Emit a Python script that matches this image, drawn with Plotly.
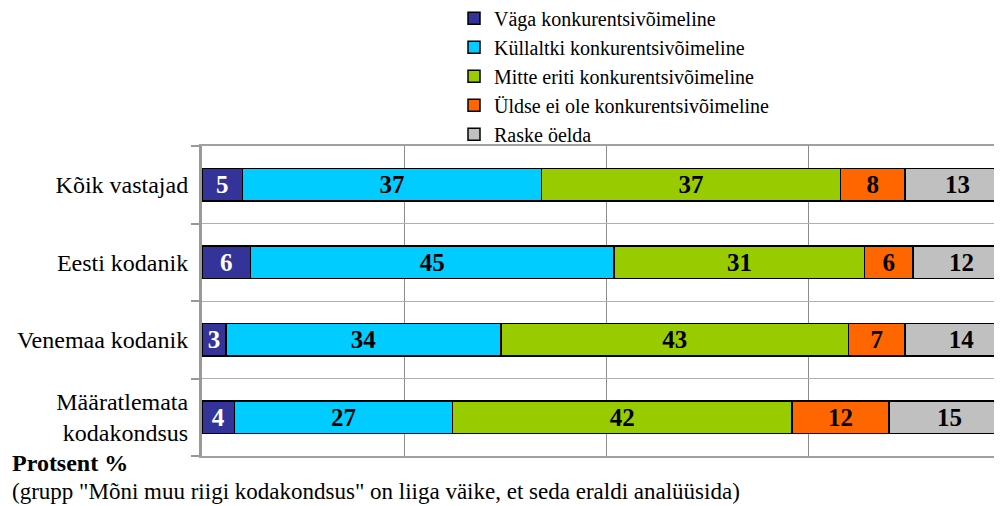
import plotly.graph_objects as go

categories = ["Kõik vastajad", "Eesti kodanik", "Venemaa kodanik", "Määratlemata<br>kodakondsus"]
series_names = [
    "Väga konkurentsivõimeline",
    "Küllaltki konkurentsivõimeline",
    "Mitte eriti konkurentsivõimeline",
    "Üldse ei ole konkurentsivõimeline",
    "Raske öelda",
]
vaga = [5, 6, 3, 4]
kullaltki = [37, 45, 34, 27]
mitte = [37, 31, 43, 42]
uldse = [8, 6, 7, 12]
raske = [13, 12, 14, 15]
series_values = [vaga, kullaltki, mitte, uldse, raske]
colors = ["#333399", "#00CCFF", "#99CC00", "#FF6600", "#C0C0C0"]
text_colors = ["white", "black", "black", "black", "black"]

FONT = "Liberation Serif"

fig = go.Figure()
for name, vals, col, tc in zip(series_names, series_values, colors, text_colors):
    fig.add_trace(go.Bar(
        y=categories, x=vals, name=name, orientation="h",
        marker=dict(color=col, line=dict(color="black", width=1.5)),
        text=[str(v) for v in vals], textposition="inside",
        insidetextanchor="middle", textangle=0, constraintext="none",
        textfont=dict(family=FONT, size=25, color=tc, weight="bold"),
        width=0.42,
    ))

fig.update_layout(
    barmode="stack",
    width=994, height=498,
    margin=dict(l=194, r=0, t=138, b=50, autoexpand=False),
    paper_bgcolor="white", plot_bgcolor="white",
    font=dict(family=FONT, size=24, color="black"),
    showlegend=True,
    legend=dict(
        x=0.315, y=1.475, xanchor="left", yanchor="top",
        traceorder="normal",
        font=dict(family=FONT, size=20, color="black"),
        bgcolor="rgba(0,0,0,0)", tracegroupgap=0,
        itemwidth=30,
    ),
    xaxis=dict(
        range=[0, 99.0], tickvals=[25, 50, 75], showticklabels=False,
        showgrid=True, gridcolor="#8c8c8c", gridwidth=1,
        zeroline=False, showline=True, mirror=True, linecolor="#a0a0a0", linewidth=2,
        fixedrange=True, automargin=False,
    ),
    yaxis=dict(
        type="category", categoryorder="array", categoryarray=categories[::-1],
        tickson="boundaries", ticks="outside", ticklen=8, tickcolor="#999999", tickwidth=2,
        showgrid=True, gridcolor="#b0b0b0", gridwidth=1,
        showline=True, linecolor="#999999", linewidth=3,
        ticklabelstandoff=6, automargin=False,
        tickfont=dict(family=FONT, size=24, color="black"),
    ),
    annotations=[
        dict(text="<b>Protsent %</b>", x=-0.24, y=-0.023, xref="paper", yref="paper",
             xanchor="left", yanchor="middle", showarrow=False,
             font=dict(family=FONT, size=24, color="black")),
        dict(text='(grupp "Mõni muu riigi kodakondsus" on liiga väike, et seda eraldi analüüsida)',
             x=-0.24, y=-0.113, xref="paper", yref="paper",
             xanchor="left", yanchor="middle", showarrow=False,
             font=dict(family=FONT, size=23, color="black")),
    ],
)

fig.write_html("out.html")
